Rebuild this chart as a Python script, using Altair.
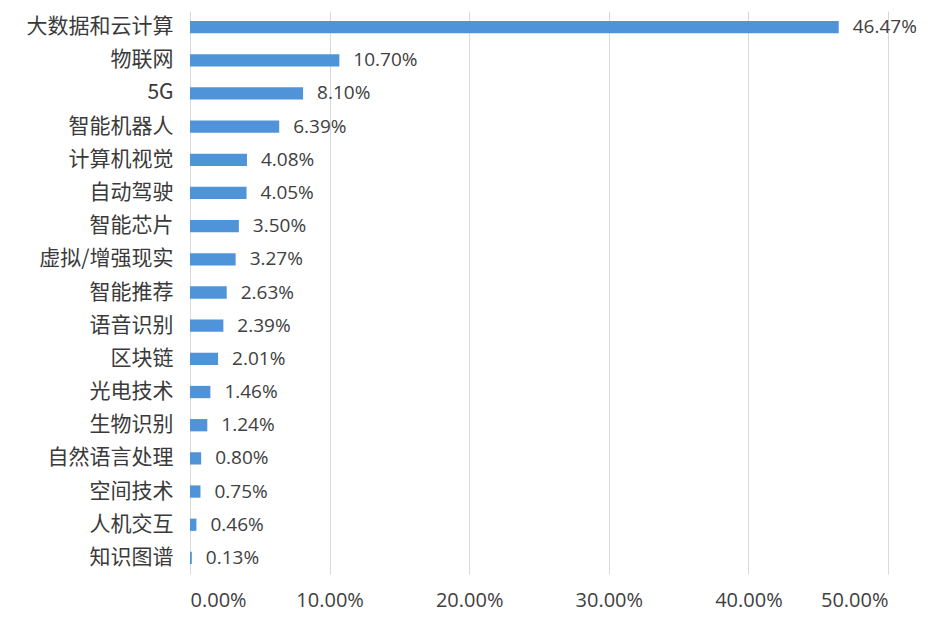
import altair as alt
import pandas as pd

categories = ["大数据和云计算", "物联网", "5G", "智能机器人", "计算机视觉", "自动驾驶", "智能芯片",
              "虚拟/增强现实", "智能推荐", "语音识别", "区块链", "光电技术", "生物识别",
              "自然语言处理", "空间技术", "人机交互", "知识图谱"]
values = [0.4647, 0.1070, 0.0810, 0.0639, 0.0408, 0.0405, 0.0350,
          0.0327, 0.0263, 0.0239, 0.0201, 0.0146, 0.0124,
          0.0080, 0.0075, 0.0046, 0.0013]
x_ticks = [0, 0.1, 0.2, 0.3, 0.4, 0.5]

df = pd.DataFrame({"cat": categories, "val": values})

y_enc = alt.Y("cat:N", sort=categories, title=None,
              scale=alt.Scale(paddingInner=0.63, paddingOuter=0.3),
              axis=alt.Axis(labelFont="Noto Sans CJK SC", labelFontSize=21, labelColor="#3a3a3a",
                            labelPadding=17, ticks=False, domain=False, grid=False))
x_enc = alt.X("val:Q", title=None, scale=alt.Scale(domain=[0, 0.5], nice=False),
              axis=alt.Axis(values=x_ticks, format=".2%", labelFont="Open Sans", labelFontSize=20,
                            labelColor="#404040", labelPadding=16, ticks=False, domain=False,
                            grid=True, gridColor="#d9d9d9", gridWidth=1))

bars = alt.Chart(df).mark_bar(color="#4f93d8").encode(x=x_enc, y=y_enc)
labels = alt.Chart(df).mark_text(align="left", baseline="middle", dx=14, font="Open Sans",
                                 fontSize=19, color="#404040").encode(
    x="val:Q", y=alt.Y("cat:N", sort=categories), text=alt.Text("val:Q", format=".2%"))

chart = (bars + labels).properties(
    width=698, height=563,
    background="white",
    autosize=alt.AutoSizeParams(type="none"),
    padding={"left": 182, "top": 3, "right": 34, "bottom": 39},
).configure_view(strokeWidth=0, stroke=None)

chart.save("out.html", embed_options={"renderer": "svg", "actions": False})
